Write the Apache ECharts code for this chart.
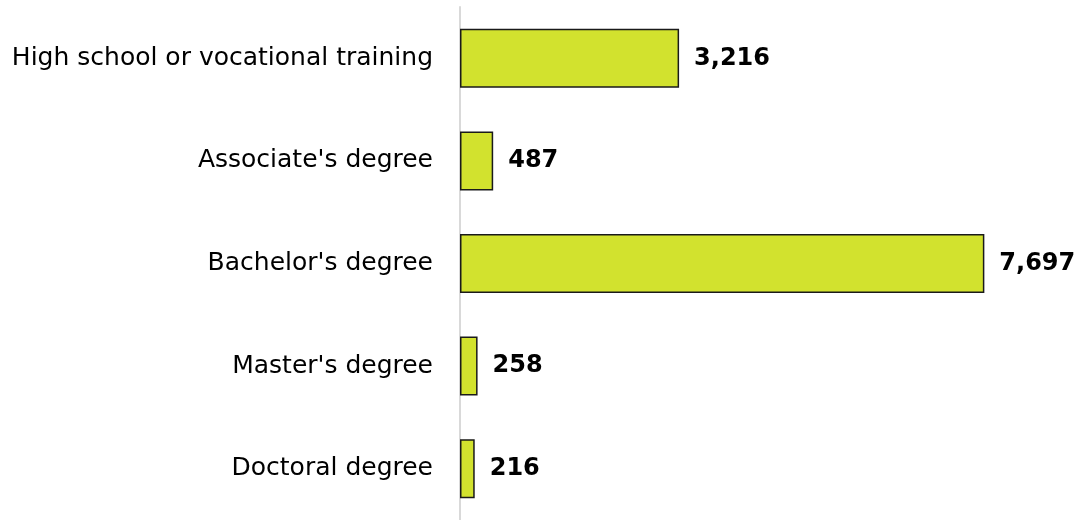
<!DOCTYPE html>
<html>
<head>
<meta charset="utf-8">
<script src="https://cdn.jsdelivr.net/npm/echarts@6/dist/echarts.min.js"></script>
<style>
  html, body { margin: 0; padding: 0; background: #fff; }
  #chart { width: 1080px; height: 520px; }
</style>
</head>
<body>
<div id="chart"></div>
<script>
// categories listed top to bottom
var categories = [
    "High school or vocational training",
    "Associate's degree",
    "Bachelor's degree",
    "Master's degree",
    "Doctoral degree"
];
var values = [3216, 487, 7697, 258, 216];

var myChart = echarts.init(document.getElementById("chart"));

var option = {
    animation: false,
    textStyle: { fontFamily: "DejaVu Sans" },
    grid: {
        left: 460,
        right: 75,
        top: 7,
        height: 517,
        containLabel: false
    },
    xAxis: {
        type: "value",
        min: 0,
        max: 8000,
        show: false
    },
    yAxis: {
        type: "category",
        inverse: true,
        data: categories,
        axisLine: { show: true, lineStyle: { color: "#d9d9d9", width: 2 } },
        axisTick: { show: false },
        axisLabel: {
            color: "#000",
            fontSize: 25,
            fontFamily: "DejaVu Sans",
            margin: 27
        }
    },
    series: [{
        type: "bar",
        data: values,
        barWidth: 59,
        itemStyle: {
            color: "#d2e22e",
            borderColor: "#1a1a1a",
            borderWidth: 1.5
        },
        label: {
            show: true,
            position: "right",
            distance: 15,
            color: "#000",
            fontSize: 24,
            fontWeight: "bold",
            fontFamily: "DejaVu Sans",
            formatter: function(p){
                return p.value.toLocaleString("en-US");
            }
        }
    }]
};

myChart.setOption(option);
</script>
</body>
</html>
